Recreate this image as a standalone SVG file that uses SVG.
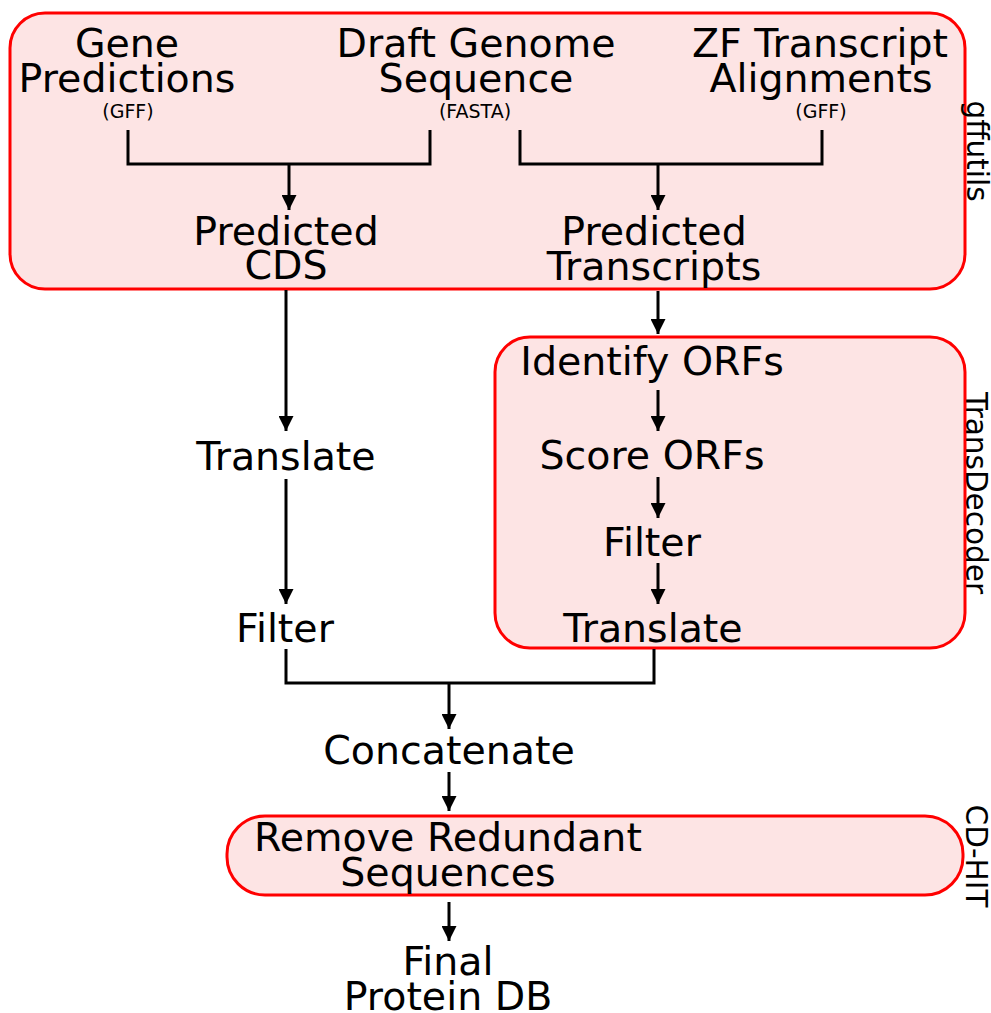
<svg xmlns="http://www.w3.org/2000/svg" width="991" height="1013" viewBox="0 0 991 1013">
<style>
.box{fill:#fde4e4;stroke:#ff0000;stroke-width:3}
.t{font-family:"DejaVu Sans",sans-serif;font-size:39.5px;fill:#000;text-anchor:middle}
.s{font-family:"DejaVu Sans",sans-serif;font-size:19px;fill:#000;text-anchor:middle}
.side{font-family:"DejaVu Sans",sans-serif;font-size:29.5px;fill:#000;text-anchor:middle}
.ln{fill:none;stroke:#000;stroke-width:3}
.ar{fill:none;stroke:#000;stroke-width:3;marker-end:url(#ah)}
</style>
<defs>
<marker id="ah" markerWidth="6" markerHeight="5" refX="5" refY="2.5" orient="auto" markerUnits="strokeWidth">
<path d="M0,0 L5,2.5 L0,5 Z" fill="#000"/>
</marker>
</defs>
<rect width="991" height="1013" fill="#fff"/>
<g id="gffutils">
<rect class="box" x="10" y="13" width="955" height="276" rx="35"/>
<text class="side" transform="translate(967,151) rotate(90)">gffutils</text>
</g>
<g id="transdecoder">
<rect class="box" x="495" y="337" width="470" height="311" rx="35"/>
<text class="side" transform="translate(966,493) rotate(90)">TransDecoder</text>
</g>
<g id="cdhit">
<rect class="box" x="227" y="816" width="736" height="79" rx="38"/>
<text class="side" transform="translate(966,856) rotate(90)">CD-HIT</text>
</g>
<g id="gene-predictions">
<text class="t" x="127" y="57">Gene</text>
<text class="t" x="127" y="92">Predictions</text>
<text class="s" x="128" y="118">(GFF)</text>
</g>
<g id="draft-genome">
<text class="t" x="476" y="57">Draft Genome</text>
<text class="t" x="476" y="92">Sequence</text>
<text class="s" x="475" y="118">(FASTA)</text>
</g>
<g id="zf-transcripts">
<text class="t" x="820" y="57">ZF Transcript</text>
<text class="t" x="821" y="92">Alignments</text>
<text class="s" x="821" y="118">(GFF)</text>
</g>
<g id="predicted-cds">
<text class="t" x="286" y="245">Predicted</text>
<text class="t" x="286" y="279">CDS</text>
</g>
<g id="predicted-transcripts">
<text class="t" x="654" y="245">Predicted</text>
<text class="t" x="654" y="280">Transcripts</text>
</g>
<g id="translate-left"><text class="t" x="286" y="470">Translate</text></g>
<g id="filter-left"><text class="t" x="285" y="642">Filter</text></g>
<g id="identify-orfs"><text class="t" x="652" y="375">Identify ORFs</text></g>
<g id="score-orfs"><text class="t" x="652" y="469">Score ORFs</text></g>
<g id="filter-right"><text class="t" x="652" y="556">Filter</text></g>
<g id="translate-right"><text class="t" x="653" y="642">Translate</text></g>
<g id="concatenate"><text class="t" x="449" y="764">Concatenate</text></g>
<g id="remove-redundant">
<text class="t" x="448" y="851">Remove Redundant</text>
<text class="t" x="448" y="886">Sequences</text>
</g>
<g id="final-db">
<text class="t" x="448" y="975">Final</text>
<text class="t" x="448" y="1010">Protein DB</text>
</g>
<g id="connectors">
<path class="ln" d="M128,130 V164 H430 V130"/>
<path class="ar" d="M289,164 V210"/>
<path class="ln" d="M520,130 V164 H822 V130"/>
<path class="ar" d="M658,164 V210"/>
<path class="ar" d="M286,290 V431"/>
<path class="ar" d="M286,479 V604"/>
<path class="ar" d="M658,291 V334"/>
<path class="ar" d="M658,390 V431"/>
<path class="ar" d="M658,477 V518"/>
<path class="ar" d="M658,563 V604"/>
<path class="ln" d="M286,649 V683 H654 V649"/>
<path class="ar" d="M449,683 V729"/>
<path class="ar" d="M449,772 V811"/>
<path class="ar" d="M449,902 V941"/>
</g>
</svg>
